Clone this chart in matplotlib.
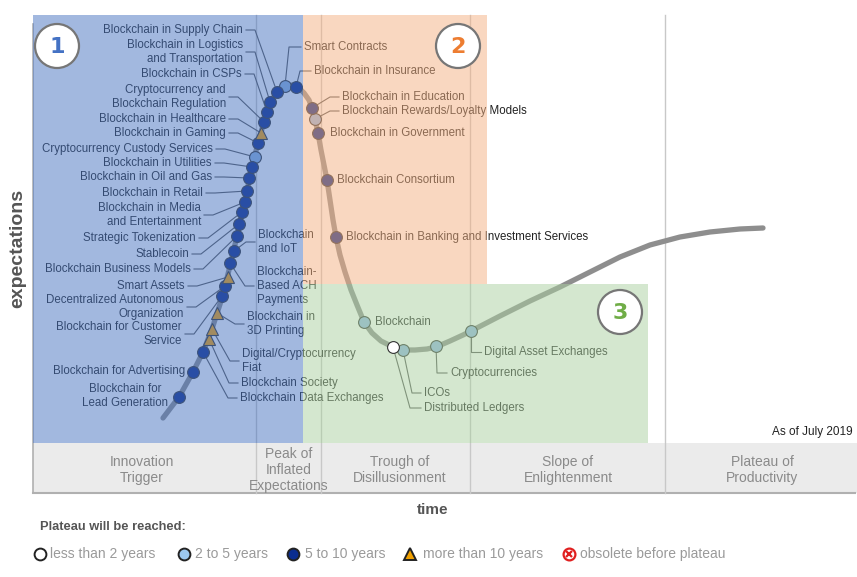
import matplotlib
matplotlib.use("Agg")
import matplotlib.pyplot as plt
from matplotlib.patches import Rectangle, Circle

plt.rcParams['font.family'] = ['Liberation Sans', 'DejaVu Sans']
NARROW = ['Liberation Sans Narrow', 'Liberation Sans', 'DejaVu Sans']

# hype curve (time, expectations in pixel units)
curve_x = [163, 179, 193, 203, 212, 222, 230, 237, 242, 247, 252, 258, 264, 270, 277, 285,
           292, 298, 304, 309, 312, 315, 318, 321, 324, 327, 330, 333, 336, 340, 345, 351,
           357, 364, 372, 381, 393, 403, 415, 427, 436, 450, 463, 471, 500, 530, 560, 590,
           620, 650, 680, 710, 740, 763]
curve_y = [418, 397, 372, 352, 329, 298, 266, 236, 212, 191, 167, 143, 122, 103, 92, 87,
           85, 87, 93, 100, 108, 119, 133, 150, 165, 180, 200, 220, 237, 255, 272, 290,
           305, 322, 333, 341, 347, 350, 350, 349, 347, 341, 335, 331, 316, 301, 287, 272,
           257, 245, 237, 232, 229, 228]

# technologies on the curve
tech_names = [
    "Blockchain for\nLead Generation", "Blockchain for Advertising", "Blockchain Data Exchanges",
    "Blockchain Society", "Digital/Cryptocurrency\nFiat", "Blockchain in\n3D Printing",
    "Blockchain for Customer\nService", "Decentralized Autonomous\nOrganization", "Smart Assets",
    "Blockchain-\nBased ACH\nPayments", "Blockchain\nand IoT", "Blockchain Business Models",
    "Stablecoin", "Strategic Tokenization", "Blockchain in Media\nand Entertainment",
    "Blockchain in Retail", "Blockchain in Oil and Gas", "Blockchain in Utilities",
    "Cryptocurrency Custody Services", "Blockchain in Gaming", "Blockchain in Healthcare",
    "Cryptocurrency and\nBlockchain Regulation", "Blockchain in CSPs",
    "Blockchain in Logistics\nand Transportation", "Blockchain in Supply Chain",
    "Smart Contracts", "Blockchain in Insurance", "Blockchain in Education",
    "Blockchain Rewards/Loyalty Models", "Blockchain in Government", "Blockchain Consortium",
    "Blockchain in Banking and Investment Services", "Blockchain", "Distributed Ledgers",
    "ICOs", "Cryptocurrencies", "Digital Asset Exchanges",
]
tech_x = [179, 193, 203, 209, 212, 217, 222, 225, 228, 230, 234, 237, 239, 242, 245, 247, 249,
          252, 255, 258, 261, 264, 267, 270, 277, 285, 296, 312, 315, 318, 327, 336, 364, 393,
          403, 436, 471]
tech_y = [397, 372, 352, 339, 329, 313, 296, 286, 277, 263, 251, 236, 224, 212, 202, 191, 178,
          167, 157, 143, 133, 122, 112, 102, 92, 86, 87, 108, 119, 133, 180, 237, 322, 347,
          350, 346, 331]
# plateau class: 0 <2y, 1 2-5y, 2 5-10y, 3 >10y
tech_class = [2, 2, 2, 3, 3, 3, 2, 2, 3, 2, 2, 2, 2, 2, 2, 2, 2, 2, 1, 2, 3, 2, 2, 2, 2,
              1, 2, 2, 1, 2, 2, 2, 1, 0, 1, 1, 1]

# label layout: anchor x, y, side ('L' = text left of the marker), leader elbow
label_x = [125, 185, 240, 241, 242, 247, 182, 184, 185, 257, 258, 191, 189, 196, 201, 203,
           212, 212, 213, 226, 226, 226, 242, 243, 243, 304, 314, 342, 342, 330, 337, 346,
           375, 424, 424, 450, 484]
label_y = [396, 371, 398, 383, 361, 324, 334, 307, 286, 286, 242, 269, 254, 238, 215, 193,
           177, 163, 149, 133, 119, 97, 74, 52, 30, 47, 71, 97, 111, 133, 180, 237, 322, 408,
           393, 373, 352]
label_side = ['C', 'L', 'R', 'R', 'R', 'R', 'L', 'L', 'L', 'R', 'R', 'L', 'L', 'L', 'L', 'L',
              'L', 'L', 'L', 'L', 'L', 'L', 'L', 'L', 'L', 'R', 'R', 'R', 'R', 'R', 'R', 'R',
              'R', 'R', 'R', 'R', 'R']
label_elbow = [None, None, 'auto', 'auto', 'auto', 'auto', 'auto', 'auto', 'auto', 'auto',
               'auto', 'auto', 'auto', 'auto', 'auto', 'auto', 'auto', 'auto', 'auto', 'auto',
               'auto', 'auto', 'auto', 'auto', 'auto', (289, 47), (300, 71), (330, 97),
               (330, 111), None, None, None, None, (410, 408), (412, 393), (437, 373),
               (471, 352)]

phase_names = ["Innovation\nTrigger", "Peak of\nInflated\nExpectations", "Trough of\nDisillusionment",
               "Slope of\nEnlightenment", "Plateau of\nProductivity"]
phase_x = [142, 289, 400, 568, 762]
phase_lines = [256, 321, 470, 665]

legend_labels = ["less than 2 years", "2 to 5 years", "5 to 10 years", "more than 10 years",
                 "obsolete before plateau"]

class_face = ['#ffffff', '#8fb4e3', '#0b2a8a', '#ffa500']
class_marker = ['o', 'o', 'o', '^']

fig = plt.figure(figsize=(8.57, 5.77), dpi=100)
ax = fig.add_axes([0, 0, 1, 1])
ax.set_xlim(0, 857)
ax.set_ylim(577, 0)
ax.axis('off')

# phase band and axes
ax.add_patch(Rectangle((33, 443), 824, 50, facecolor='#ebebeb', edgecolor='none', zorder=0))
ax.plot([33, 33], [24, 493], color='#b0b0b0', lw=1.2, zorder=1)
ax.plot([33, 855], [493, 493], color='#b0b0b0', lw=1.5, zorder=1)
for lx in phase_lines:
    ax.plot([lx, lx], [15, 493], color='#c8c8c8', lw=1, zorder=1)
for name, px in zip(phase_names, phase_x):
    ax.text(px, 470, name, ha='center', va='center', fontsize=10, color='#8a8a8a',
            linespacing=1.2, family=NARROW, zorder=2)

ax.plot(curve_x, curve_y, color='#8e8e8e', lw=3.8, solid_capstyle='round',
        solid_joinstyle='round', zorder=2)

# labels and leaders
for i, name in enumerate(tech_names):
    lx, ly, side = label_x[i], label_y[i], label_side[i]
    ha = {'L': 'right', 'R': 'left', 'C': 'center'}[side]
    ax.text(lx, ly, name, ha=ha, va='center', multialignment=ha, fontsize=8.3,
            color='#222222', linespacing=1.22, zorder=3)
    elbow = label_elbow[i]
    if elbow is None:
        continue
    gap = 3 if side == 'L' else -3
    if elbow == 'auto':
        elbow = (lx + 4 * gap, ly)
    ax.plot([lx + gap, elbow[0], tech_x[i]], [ly, elbow[1], tech_y[i]],
            color='#555555', lw=0.8, zorder=3)

# translucent region overlays
ax.add_patch(Rectangle((33, 15), 270, 428, facecolor='#4773c1', alpha=0.5, lw=0, zorder=4))
ax.add_patch(Rectangle((303, 15), 184, 269, facecolor='#f4b183', alpha=0.5, lw=0, zorder=4))
ax.add_patch(Rectangle((303, 284), 345, 159, facecolor='#abd1a1', alpha=0.5, lw=0, zorder=4))

# markers (mostly under the overlays so they take the region tint)
for c in range(4):
    xs = [x for x, k in zip(tech_x, tech_class) if k == c]
    ys = [y for y, k in zip(tech_y, tech_class) if k == c]
    ax.plot(xs, ys, ls='none', marker=class_marker[c], ms=8.5 if c < 3 else 9,
            mfc=class_face[c], mec='#333333', mew=0.8, zorder=4.5 if c == 0 else 3.5)

# numbered badges
for num, (cx, cy), col in zip(["1", "2", "3"], [(57, 46), (458, 46), (620, 312)],
                              ['#4472c4', '#ed7d31', '#70ad47']):
    ax.add_patch(Circle((cx, cy), 22, facecolor='white', edgecolor='#767676', lw=1.6, zorder=5))
    ax.text(cx, cy + 1, num, ha='center', va='center', fontsize=16, fontweight='bold',
            color=col, family='DejaVu Sans', zorder=6)

ax.text(853, 432, "As of July 2019", ha='right', va='center', fontsize=8.5, color='#222222')
ax.text(433, 510, "time", ha='center', va='center', fontsize=11, fontweight='bold', color='#555555')
ax.text(18, 248, "expectations", ha='center', va='center', rotation=90, fontsize=14,
        fontweight='bold', color='#555555', family=NARROW)

# legend
ax.text(40, 527, "Plateau will be reached:", ha='left', va='center', fontsize=9.3,
        fontweight='bold', color='#555555', family=NARROW)
leg_x = [40, 184, 293, 410, 569]
leg_text_x = [50, 195, 305, 423, 580]
leg_face = ['#ffffff', '#9cc8f0', '#0a2d8f', '#f0a000']
for i, lab in enumerate(legend_labels):
    if i < 4:
        ax.plot(leg_x[i], 554, marker=class_marker[i], ms=8.5, mfc=leg_face[i], mec='#222222', mew=1.4)
    else:
        ax.plot(leg_x[i], 554, marker='o', ms=8.5, mfc='white', mec='#e02020', mew=1.6)
        ax.plot(leg_x[i], 554, marker='x', ms=4.5, mec='#e02020', mew=1.6)
    ax.text(leg_text_x[i], 554, lab, ha='left', va='center', fontsize=10, color='#9a9a9a',
            family=NARROW)

fig.savefig("out.png", dpi=100)
